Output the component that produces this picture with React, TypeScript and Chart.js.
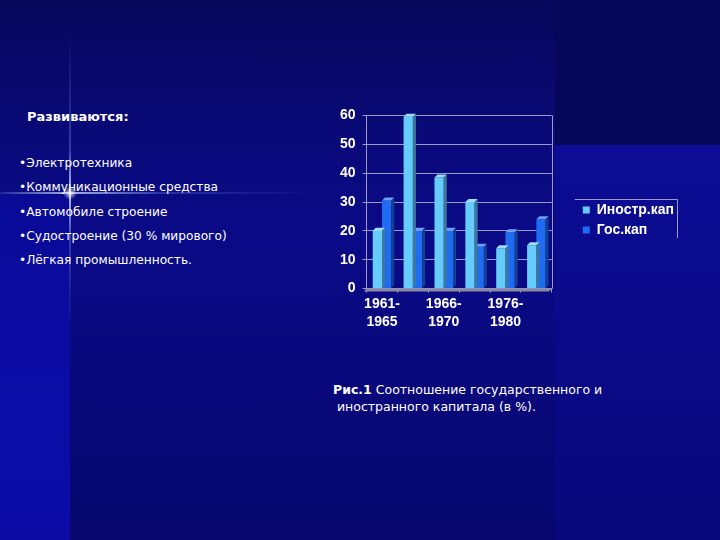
import React, { useEffect, useRef } from "react";
import { Chart, registerables } from "chart.js";

Chart.register(...registerables);

const categories: string[][] = [
  ["1961-", "1965"],
  ["1965-", "1966"],
  ["1966-", "1970"],
  ["1971-", "1975"],
  ["1976-", "1980"],
  ["1981-", "1985"],
];
const foreignCapital: number[] = [20, 59.5, 38.5, 30, 14, 15];
const stateCapital: number[] = [30.5, 20, 20, 14.5, 19.5, 24];
const seriesNames: string[] = ["Иностр.кап", "Гос.кап"];
const bullets: string[] = [
  "•Электротехника",
  "•Коммуникационные средства",
  "•Автомобиле строение",
  "•Судостроение (30 % мирового)",
  "•Лёгкая промышленность.",
];

const FONT = "'DejaVu Sans', Verdana, sans-serif";
const CFONT = "'Liberation Sans', Arial, sans-serif";
const LINE = "#9a9ac4";

function shade(hex: string, f: number): string {
  const n = parseInt(hex.slice(1), 16);
  let r = (n >> 16) & 255, g = (n >> 8) & 255, b = n & 255;
  if (f >= 0) {
    r = Math.round(r + (255 - r) * f);
    g = Math.round(g + (255 - g) * f);
    b = Math.round(b + (255 - b) * f);
  } else {
    r = Math.round(r * (1 + f));
    g = Math.round(g * (1 + f));
    b = Math.round(b * (1 + f));
  }
  return `rgb(${r},${g},${b})`;
}

const depthPlugin = {
  id: "depth3d",
  beforeDatasetsDraw(chart: any) {
    const { ctx, chartArea, scales } = chart;
    const y0 = scales.y.getPixelForValue(0);
    ctx.save();
    ctx.fillStyle = "#8a8aa8";
    ctx.beginPath();
    ctx.moveTo(chartArea.left - 3, y0 + 3);
    ctx.lineTo(chartArea.left, y0);
    ctx.lineTo(chartArea.right, y0);
    ctx.lineTo(chartArea.right - 3, y0 + 3);
    ctx.closePath();
    ctx.fill();
    ctx.strokeStyle = LINE;
    ctx.lineWidth = 1;
    ctx.beginPath();
    ctx.moveTo(Math.round(chartArea.right) + 0.5, chartArea.top);
    ctx.lineTo(Math.round(chartArea.right) + 0.5, chartArea.bottom);
    ctx.stroke();
    ctx.restore();
  },
  afterDatasetDraw(chart: any, args: any) {
    const { ctx } = chart;
    const meta = args.meta;
    const base: string = chart.data.datasets[args.index].backgroundColor;
    const d = 3;
    ctx.save();
    meta.data.forEach((bar: any) => {
      const p = bar.getProps(["x", "y", "base", "width"], true);
      const l = p.x - p.width / 2;
      const r = p.x + p.width / 2;
      const t = p.y;
      const b = p.base;
      ctx.fillStyle = shade(base, 0.35);
      ctx.beginPath();
      ctx.moveTo(l, t);
      ctx.lineTo(l + d, t - d);
      ctx.lineTo(r + d, t - d);
      ctx.lineTo(r, t);
      ctx.closePath();
      ctx.fill();
      ctx.fillStyle = shade(base, -0.4);
      ctx.beginPath();
      ctx.moveTo(r, t);
      ctx.lineTo(r + d, t - d);
      ctx.lineTo(r + d, b - d);
      ctx.lineTo(r, b);
      ctx.closePath();
      ctx.fill();
    });
    ctx.restore();
  },
  afterDraw(chart: any) {
    const { ctx, legend } = chart;
    if (!legend || !legend.legendHitBoxes || !legend.legendHitBoxes.length) return;
    const hb = legend.legendHitBoxes;
    const left = hb[0].left - 8;
    const top = hb[0].top + hb[0].height / 2 - 11;
    const last = hb[hb.length - 1];
    const right = Math.max(...hb.map((h: any) => h.left + h.width)) + 3;
    const bottom = last.top + last.height / 2 + 8;
    ctx.save();
    ctx.strokeStyle = LINE;
    ctx.lineWidth = 1;
    ctx.beginPath();
    ctx.moveTo(left, Math.round(top) + 0.5);
    ctx.lineTo(Math.round(right) + 0.5, Math.round(top) + 0.5);
    ctx.lineTo(Math.round(right) + 0.5, bottom);
    ctx.stroke();
    ctx.restore();
  },
};

function ChartBox() {
  const ref = useRef<HTMLCanvasElement>(null);
  useEffect(() => {
    if (!ref.current) return;
    const chart = new Chart(ref.current, {
      type: "bar",
      data: {
        labels: categories,
        datasets: [
          {
            label: seriesNames[0],
            data: foreignCapital,
            backgroundColor: "#66ccff",
            borderWidth: 0,
            categoryPercentage: 0.6,
            barPercentage: 1,
          },
          {
            label: seriesNames[1],
            data: stateCapital,
            backgroundColor: "#1f6cf2",
            borderWidth: 0,
            categoryPercentage: 0.6,
            barPercentage: 1,
          },
        ],
      },
      options: {
        responsive: false,
        animation: false,
        layout: { padding: { left: 13, top: 13, right: 16, bottom: 2 } },
        plugins: {
          tooltip: { enabled: false },
          legend: {
            position: "right",
            maxWidth: 200,
            title: { display: true, text: "", font: { size: 1 }, padding: { top: -7, bottom: 0 } },
            labels: {
              color: "#ffffff",
              boxWidth: 7,
              boxHeight: 7,
              padding: 6,
              font: { family: CFONT, size: 14, weight: "bold" },
            },
          },
        },
        scales: {
          x: {
            grid: {
              display: true,
              drawOnChartArea: false,
              drawTicks: true,
              tickLength: 4,
              offset: true,
              color: LINE,
            },
            border: { display: true, color: LINE },
            ticks: {
              color: "#ffffff",
              autoSkip: false,
              maxRotation: 0,
              padding: 2,
              font: { family: CFONT, size: 14, weight: "bold", lineHeight: 1.3 },
              callback: (_v: any, i: number) => (i % 2 === 0 ? categories[i] : ""),
            },
          },
          y: {
            min: 0,
            max: 60,
            ticks: {
              stepSize: 10,
              color: "#ffffff",
              padding: 7,
              font: { family: CFONT, size: 14, weight: "bold" },
            },
            grid: { color: LINE, tickLength: 4 },
            border: { display: true, color: LINE },
          },
          gap: {
            position: "right",
            display: true,
            grid: { display: false },
            border: { display: false },
            ticks: { display: false },
            afterFit: (s: any) => {
              s.width = 25;
            },
          },
        },
      },
      plugins: [depthPlugin],
    } as any);
    return () => chart.destroy();
  }, []);
  return (
    <canvas
      ref={ref}
      width={380}
      height={235}
      style={{ position: "absolute", left: 320, top: 100, width: 380, height: 235 }}
    />
  );
}

export default function App() {
  return (
    <div
      style={{
        position: "fixed",
        left: 0,
        top: 0,
        width: 720,
        height: 540,
        overflow: "hidden",
        background: "linear-gradient(to bottom, #07075c 0%, #0a0a7e 30%, #0a0a88 45%, #07076e 100%)",
        fontFamily: FONT,
        color: "#ffffff",
      }}
    >
      <div style={{ position: "absolute", left: 555, top: 0, width: 165, height: 145, background: "#06065a" }} />
      <div
        style={{
          position: "absolute",
          left: 555,
          top: 145,
          width: 165,
          height: 395,
          background: "linear-gradient(to bottom, #0c0c96 0%, #0a0a88 50%, #08087a 100%)",
        }}
      />
      <div
        style={{
          position: "absolute",
          left: 0,
          top: 195,
          width: 70,
          height: 345,
          background: "linear-gradient(to bottom, #0a0a96 0%, #0c0ca8 60%, #0b0ba4 100%)",
        }}
      />
      <div
        style={{
          position: "absolute",
          left: 0,
          top: 192,
          width: 320,
          height: 2,
          background:
            "linear-gradient(to right, rgba(120,150,255,0.2) 0%, rgba(200,220,255,0.8) 22%, rgba(120,150,255,0.3) 50%, rgba(80,100,255,0) 100%)",
          filter: "blur(0.6px)",
        }}
      />
      <div
        style={{
          position: "absolute",
          left: 69,
          top: 30,
          width: 2,
          height: 300,
          background:
            "linear-gradient(to bottom, rgba(80,100,255,0) 0%, rgba(130,150,255,0.35) 40%, rgba(220,230,255,0.85) 54%, rgba(130,150,255,0.35) 70%, rgba(80,100,255,0) 100%)",
          filter: "blur(0.6px)",
        }}
      />
      <div
        style={{
          position: "absolute",
          left: 63,
          top: 186,
          width: 14,
          height: 14,
          borderRadius: 7,
          background: "radial-gradient(circle, rgba(255,255,255,0.85) 0%, rgba(150,170,255,0) 70%)",
        }}
      />
      <div style={{ position: "absolute", left: 27, top: 109, fontSize: 13, fontWeight: "bold" }}>
        Развиваются:
      </div>
      {bullets.map((b, i) => (
        <div
          key={i}
          style={{ position: "absolute", left: 19, top: 156 + i * 24.3, fontSize: 12.2, whiteSpace: "nowrap" }}
        >
          {b}
        </div>
      ))}
      <ChartBox />
      <div style={{ position: "absolute", left: 333, top: 381, fontSize: 12.5, lineHeight: "17px", whiteSpace: "pre" }}>
        <span style={{ fontWeight: "bold" }}>Рис.1</span>
        {" Соотношение государственного и\n иностранного капитала (в %)."}
      </div>
    </div>
  );
}
